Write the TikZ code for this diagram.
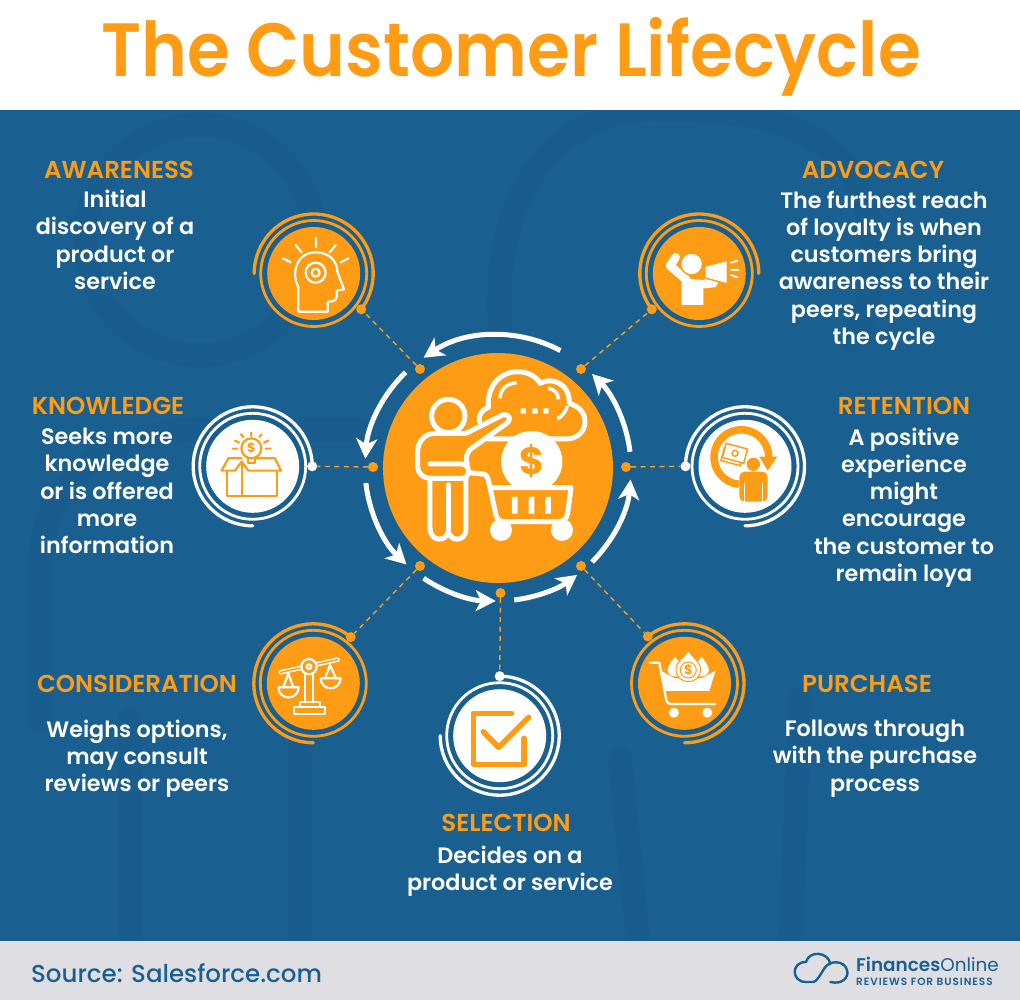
\documentclass[tikz,border=0pt]{standalone}
\usepackage{fontspec}
\usepackage{graphicx}
\setmainfont{Poppins}
\newfontfamily\semifont{Poppins SemiBold}
\newfontfamily\mediumfont{Poppins Medium}
\newfontfamily\spacedfont[LetterSpace=9]{Poppins SemiBold}
\usepackage{xcolor}
\usetikzlibrary{arrows.meta,positioning,calc}
\definecolor{loorange}{RGB}{255,156,22}
\definecolor{loblue}{RGB}{25,96,145}
\definecolor{lofaint}{RGB}{24,93,141}
\definecolor{logrey}{RGB}{223,223,227}
\tikzset{
  headlabel/.style={text=loorange,font=\semifont\fontsize{24.5}{28}\selectfont,inner sep=0pt},
  bodylabel/.style={text=white,align=center,font=\semifont\fontsize{22.3}{27.3}\selectfont,inner sep=0pt},
  hubdot/.style={circle,fill=loorange,inner sep=0pt,minimum size=10pt},
  ringdot/.style={circle,inner sep=0pt,minimum size=10pt},
  discnode/.style={circle,inner sep=0pt,minimum size=93pt},
  link/.style={loorange,line width=1.4pt,dash pattern=on 5pt off 4.5pt},
  ringarrow/.style={white,line width=5pt,-{Stealth[length=20pt,width=21pt,inset=5.5pt]}},
  thinline/.style={line width=2.2pt,line cap=round,line join=round},
  hubline/.style={white,line width=5pt,line cap=round,line join=round},
  faintline/.style={lofaint,line width=24pt,line cap=round,line join=round},
}
\begin{document}
\begin{tikzpicture}[x=1pt,y=-1pt]
    \useasboundingbox (0,0) rectangle (1020,1000);

    % Bands
    \fill[loblue] (0,100) rectangle (1020,950);
    % Faint backdrop
    \draw[faintline] (200,240) circle (115);
    \draw[faintline] (40,720) -- (40,570) .. controls (40,480) and (110,430) .. (200,430) -- (360,430);
    \draw[faintline] (130,720) -- (130,960) (300,720) -- (300,960);
    \draw[faintline] (500,330) .. controls (490,190) and (560,110) .. (650,110) .. controls (720,110) and (800,110) .. (850,170) .. controls (880,220) and (880,300) .. (850,340);
    \draw[faintline] (620,760) -- (640,960) (800,700) -- (790,960);
    \fill[white] (0,0) rectangle (1020,110);
    \fill[logrey] (0,941) rectangle (1020,1000);

    % Title and source
    \node[text=loorange,font=\semifont\fontsize{75.5}{80}\selectfont,inner sep=0pt,anchor=base] (title) at (511,76.7) {\scalebox{0.92}[1]{The Customer Lifecycle}};
    \node[text=loblue,font=\mediumfont\fontsize{24.5}{28}\selectfont,inner sep=0pt,anchor=west] (source) at (31,973) {Source: Salesforce.com};

    % Hub disc
    \node[circle,fill=loorange,inner sep=0pt,minimum size=230pt] (hub) at (498,468) {};

    % Hub arrows
    \draw[ringarrow] (hub.center) ++(-62:133) arc[start angle=-62,end angle=-124,radius=133];
    \draw[ringarrow] (hub.center) ++(-134:133) arc[start angle=-134,end angle=-176,radius=133];
    \draw[ringarrow] (hub.center) ++(-186.5:133) arc[start angle=-186.5,end angle=-226.5,radius=133];
    \draw[ringarrow] (hub.center) ++(-236:133) arc[start angle=-236,end angle=-269,radius=133];
    \draw[ringarrow] (hub.center) ++(-277:133) arc[start angle=-277,end angle=-306.5,radius=133];
    \draw[ringarrow] (hub.center) ++(-315:133) arc[start angle=-315,end angle=-355,radius=133];
    \draw[ringarrow] (hub.center) ++(-7:133) arc[start angle=-7,end angle=-45,radius=133];

    % Hub dots
    \node[hubdot] (dotaware) at (420,369) {};
    \node[hubdot] (dotknow) at (373,467) {};
    \node[hubdot] (dotconsider) at (420,566) {};
    \node[hubdot] (dotselect) at (500.5,593) {};
    \node[hubdot] (dotpurchase) at (581,566) {};
    \node[hubdot] (dotretain) at (626,467) {};
    \node[hubdot] (dotadvocate) at (581,369) {};

    % Step discs
    \node[discnode,fill=loorange] (aware) at (313.7,273.5) {};
    \node[discnode,fill=white] (know) at (252.7,466.3) {};
    \node[discnode,fill=loorange] (consider) at (313.3,683.3) {};
    \node[discnode,fill=white] (select) at (499.7,735.7) {};
    \node[discnode,fill=loorange] (purchase) at (684.5,683.3) {};
    \node[discnode,fill=white] (retain) at (745,466.3) {};
    \node[discnode,fill=loorange] (advocate) at (699.3,273.5) {};

    % Rings
    \draw[loorange,line width=2.8pt] (aware.center) circle (53);
    \draw[white,line width=2.8pt] (know.center) circle (53);
    \draw[loorange,line width=2.8pt] (consider.center) circle (53);
    \draw[white,line width=2.8pt] (select.center) circle (53);
    \draw[loorange,line width=2.8pt] (purchase.center) circle (53);
    \draw[white,line width=2.8pt] (retain.center) circle (53);
    \draw[loorange,line width=2.8pt] (advocate.center) circle (53);

    % Ring dots, set on the outer arcs
    \node[ringdot,fill=loorange] (ringaware) at ($(aware.center)+(37:59.5)$) {};
    \node[ringdot,fill=white] (ringknow) at ($(know.center)+(0:59.5)$) {};
    \node[ringdot,fill=loorange] (ringconsider) at ($(consider.center)+(-51:59.5)$) {};
    \node[ringdot,fill=white] (ringselect) at ($(select.center)+(-90:59.5)$) {};
    \node[ringdot,fill=loorange] (ringpurchase) at ($(purchase.center)+(-128:59.5)$) {};
    \node[ringdot,fill=white] (ringretain) at ($(retain.center)+(180:59.5)$) {};
    \node[ringdot,fill=loorange] (ringadvocate) at ($(advocate.center)+(143:59.5)$) {};

    % Outer arcs
    \draw[loorange,line width=3.3pt,line cap=round] (ringaware.center) arc[start angle=37,end angle=-180,radius=59.5];
    \draw[white,line width=3.3pt,line cap=round] (ringknow.center) arc[start angle=0,end angle=-270,radius=59.5];
    \draw[loorange,line width=3.3pt,line cap=round] (ringconsider.center) arc[start angle=-51,end angle=-270,radius=59.5];
    \draw[white,line width=3.3pt,line cap=round] (ringselect.center) arc[start angle=-90,end angle=180,radius=59.5];
    \draw[loorange,line width=3.3pt,line cap=round] (ringpurchase.center) arc[start angle=-128,end angle=90,radius=59.5];
    \draw[white,line width=3.3pt,line cap=round] (ringretain.center) arc[start angle=180,end angle=450,radius=59.5];
    \draw[loorange,line width=3.3pt,line cap=round] (ringadvocate.center) arc[start angle=143,end angle=360,radius=59.5];

    % Dashed links
    \draw[link] (dotaware) -- (ringaware);
    \draw[link] (dotknow) -- (ringknow);
    \draw[link] (dotconsider) -- (ringconsider);
    \draw[link] (dotselect) -- (ringselect);
    \draw[link] (dotpurchase) -- (ringpurchase);
    \draw[link] (dotretain) -- (ringretain);
    \draw[link] (dotadvocate) -- (ringadvocate);

    % Labels
    \node[headlabel] (awarehead) at (119,170) {AWARENESS};
    \node[bodylabel] (awaretext) at (115,240) {Initial\\discovery of a\\product or\\service};
    \node[headlabel] (advocatehead) at (873,170) {ADVOCACY};
    \node[bodylabel] (advocatetext) at (884,270.5) {The furthest reach\\of loyalty is when\\customers bring\\awareness to their\\peers, repeating\\the cycle};
    \node[headlabel] (knowhead) at (108,406) {KNOWLEDGE};
    \node[bodylabel] (knowtext) at (107,491) {Seeks more\\knowledge\\or is offered\\more\\information};
    \node[headlabel] (retainhead) at (904,406) {RETENTION};
    \node[bodylabel] (retaintext) at (904,507.5) {A positive\\experience\\might\\encourage\\the customer to\\remain loya};
    \node[headlabel] (considerhead) at (137,684) {CONSIDERATION};
    \node[bodylabel] (considertext) at (137,758.5) {Weighs options,\\may consult\\reviews or peers};
    \node[headlabel] (purchasehead) at (867,684) {PURCHASE};
    \node[bodylabel] (purchasetext) at (875,758.5) {Follows through\\with the purchase\\process};
    \node[headlabel] (selecthead) at (506,823) {SELECTION};
    \node[bodylabel] (selecttext) at (510,871) {Decides on a\\product or service};

    % Hub icon, in the crop's third-of-a-pixel grid
    \begin{scope}[shift={(340,320)},x=0.3333pt,y=-0.3333pt]
        \draw[hubline] (445,262) .. controls (440,190) and (490,155) .. (530,155) .. controls (565,155) and (590,170) .. (600,190) .. controls (635,170) and (690,190) .. (688,250) .. controls (720,260) and (735,280) .. (735,305) .. controls (735,335) and (710,357) .. (680,357) -- (445,357);
        \draw[hubline] (445,262) .. controls (425,270) and (415,285) .. (418,305);
        \draw[white,line width=3.5pt] (480,235) .. controls (480,210) and (500,190) .. (530,188);
        \draw[white,line width=3.5pt] (625,205) .. controls (645,208) and (655,222) .. (655,238);
        \draw[white,line width=3.5pt] (652,297) .. controls (665,290) and (678,275) .. (682,258);
        \fill[white] (542,265) rectangle (558,281) (577,265) rectangle (593,281) (610,265) rectangle (626,281);
        % coin
        \fill[white] (518,497) arc[start angle=128.4,end angle=411.6,radius=92] -- cycle;
        \node[text=loorange,font=\bfseries\fontsize{38}{40}\selectfont,inner sep=0pt] (coin) at (575,423) {\$};
        % person
        \draw[hubline] (325,288) circle (50);
        \draw[hubline,fill=loorange] (270,475) -- (270,625) .. controls (272,668) and (320,665) .. (325,635) .. controls (330,665) and (378,668) .. (378,625) -- (378,475);
        \draw[hubline] (325,495) -- (325,635);
        \draw[hubline,fill=loorange] (378,340) -- (285,340) .. controls (255,340) and (233,365) .. (233,395) -- (233,440) .. controls (233,460) and (250,475) .. (270,475) -- (365,475) .. controls (392,475) and (392,432) .. (365,432) -- (270,432);
        \draw[hubline,fill=loorange] (378,340) -- (488,285) .. controls (510,280) and (515,300) .. (500,310) -- (395,385) .. controls (380,395) and (375,415) .. (382,435);
        % cart
        \draw[hubline] (385,458) -- (428,462) .. controls (438,462) and (442,470) .. (445,480) -- (468,585) .. controls (472,600) and (480,605) .. (495,605) -- (655,605) .. controls (672,605) and (680,595) .. (683,580) -- (693,503) -- (452,503);
        \fill[white] (516,531) rectangle (533,581) (566,531) rectangle (583,581) (616,531) rectangle (633,581);
        \fill[white] (483,630) circle (33) (666,630) circle (33);
    \end{scope}

    % Awareness icon
    \begin{scope}[shift={(180,200)},x=0.3333pt,y=-0.3333pt]
        \draw[white,thinline] (355,335) -- (355,262) .. controls (335,225) and (345,157) .. (407,157) .. controls (450,157) and (472,185) .. (472,215) -- (492,268) -- (470,272) -- (470,290) .. controls (470,303) and (455,305) .. (443,305) -- (443,335) -- cycle;
        \draw[white,thinline] (407,218) circle (30) (407,218) circle (12);
        \draw[white,thinline] (408,114) -- (408,142) (347,135) -- (365,157) (309,175) -- (332,187) (467,135) -- (449,157) (505,175) -- (482,187);
    \end{scope}

    % Knowledge icon
    \begin{scope}[shift={(180,200)},x=0.3333pt,y=-0.3333pt]
        \draw[loorange,thinline] (140,815) -- (140,888) -- (290,888) -- (290,815);
        \draw[loorange,thinline] (185,785) -- (185,888);
        \draw[loorange,thinline] (185,775) -- (145,775) -- (125,812) -- (165,812) -- (185,785) -- (205,812) -- (303,812) -- (285,775) -- (222,775);
        \draw[loorange,thinline,fill=white] (214,745) circle (30);
        \draw[loorange,thinline] (205,775) -- (205,788) -- (224,788) -- (224,775);
        \node[text=loorange,font=\bfseries\fontsize{13}{14}\selectfont,inner sep=0pt] (boxcoin) at (214,745) {\$};
        \draw[loorange,thinline] (214,698) -- (214,708) (183,703) -- (190,711) (245,703) -- (238,711) (158,746) -- (172,746) (257,746) -- (272,746) (165,722) -- (177,728) (265,722) -- (252,728);
    \end{scope}

    % Advocacy icon
    \begin{scope}[shift={(620,200)},x=0.3333pt,y=-0.3333pt]
        \draw[white,line width=8.5pt,line cap=round,line join=round] (200,240) -- (150,197) -- (167,172);
        \fill[white] (185,235) -- (185,315) -- (250,315) -- (250,265) -- (285,262) .. controls (300,250) and (295,230) .. (280,225) -- (250,240) -- cycle;
        \draw[loorange,line width=1.5pt,fill=white] (255,198) -- (322,181) -- (322,252) -- (255,234) -- cycle;
        \draw[loorange,line width=1.5pt,fill=white] (215,192) circle (33);
        \draw[white,line width=2pt,line cap=round] (333,188) -- (352,182) (333,210) -- (355,210) (333,225) -- (352,232);
    \end{scope}

    % Retention icon
    \begin{scope}[shift={(620,200)},x=0.3333pt,y=-0.3333pt]
        \draw[loorange,line width=7.5pt] (357,853) arc[start angle=95,end angle=360,radius=82];
        \fill[loorange] (418,770) -- (472,770) -- (443,812) -- cycle;
        \draw[loorange,line width=1.5pt,fill=white,rotate around={-15:(337,770)}] (307,750) rectangle (367,790);
        \draw[loorange,line width=1.5pt,fill=white,rotate around={-15:(345,760)}] (312,738) rectangle (378,782);
        \draw[loorange,line width=1.5pt] (345,760) circle (9);
        \fill[loorange] (400,793) circle (20);
        \fill[loorange,rounded corners=5pt] (358,815) rectangle (443,905);
        \draw[white,line width=1pt] (373,850) -- (373,905) (428,850) -- (428,905);
    \end{scope}

    % Consideration icon
    \begin{scope}[shift={(240,610)},x=0.3333pt,y=-0.3333pt]
        \draw[white,line width=4.5pt,line cap=round] (122,187) -- (293,149);
        \draw[loorange,line width=1.5pt,line cap=round] (122,187) -- (293,149);
        \draw[white,thinline,fill=loorange] (195,195) -- (195,277) (220,195) -- (220,277);
        \draw[white,thinline,fill=loorange] (207,170) circle (23) (207,170) circle (7);
        \draw[white,thinline] (180,277) rectangle (240,290);
        \draw[white,thinline] (162,290) rectangle (255,313);
        \draw[white,thinline] (115,232) arc[start angle=180,end angle=0,radius=30.5] -- cycle;
        \draw[white,thinline] (130,232) -- (145,190) -- (160,232);
        \draw[white,thinline] (242,205) arc[start angle=180,end angle=0,radius=30] -- cycle;
        \draw[white,thinline] (255,205) -- (270,165) -- (288,205);
    \end{scope}

    % Selection icon
    \begin{scope}[shift={(240,610)},x=0.3333pt,y=-0.3333pt]
        \draw[loorange,line width=5.5pt,line cap=round,line join=round] (815,310) -- (700,310) -- (700,463) -- (852,463) -- (852,385);
        \draw[loorange,line width=5.5pt,line cap=round,line join=round] (730,365) -- (776,412) -- (866,322);
    \end{scope}

    % Purchase icon
    \begin{scope}[shift={(240,610)},x=0.3333pt,y=-0.3333pt]
        \draw[white,thinline] (1230,158) -- (1258,158) -- (1278,265) .. controls (1280,278) and (1285,282) .. (1295,282) -- (1425,282);
        \fill[white] (1262,182) -- (1305,205) -- (1385,205) -- (1427,182) -- (1408,243) -- (1275,243) -- cycle;
        \fill[white] (1305,140) .. controls (1320,160) and (1330,170) .. (1330,185) .. controls (1325,205) and (1285,205) .. (1283,180) .. controls (1285,165) and (1295,155) .. (1305,140) -- cycle;
        \fill[white] (1385,140) .. controls (1370,160) and (1360,170) .. (1360,185) .. controls (1365,205) and (1405,205) .. (1407,180) .. controls (1405,165) and (1395,155) .. (1385,140) -- cycle;
        \draw[loorange,line width=1pt,fill=white] (1345,122) .. controls (1360,145) and (1382,155) .. (1382,180) .. controls (1382,200) and (1365,215) .. (1345,215) .. controls (1325,215) and (1308,200) .. (1308,180) .. controls (1308,155) and (1330,145) .. (1345,122) -- cycle;
        \draw[loorange,line width=1pt] (1345,180) circle (24);
        \node[text=loorange,font=\bfseries\fontsize{13}{14}\selectfont,inner sep=0pt] (cartcoin) at (1345,180) {\$};
        \fill[white] (1302,308) circle (15) (1402,308) circle (15);
    \end{scope}

    % Brand mark
    \begin{scope}[shift={(741,940)},x=0.3333pt,y=-0.3333pt]
        \draw[loblue,line width=2.4pt,line cap=round] (218,126) -- (195,126) .. controls (150,126) and (150,65) .. (195,66) .. controls (205,30) and (262,35) .. (268,72);
        \draw[loblue,line width=2.4pt,line cap=round] (268,126) .. controls (305,135) and (325,110) .. (318,90) .. controls (310,60) and (265,60) .. (250,85);
        \draw[loblue,line width=2.4pt,line cap=round] (250,85) .. controls (235,110) and (225,125) .. (218,126);
    \end{scope}
    \node[text=loblue,font=\fontsize{18.4}{22}\selectfont,inner sep=0pt,anchor=west] (brand) at (856,964) {{\semifont Finances}Online};
    \node[text=loblue,font=\spacedfont\fontsize{10.5}{13}\selectfont,inner sep=0pt,anchor=west] (brandline) at (856,982) {REVIEWS FOR BUSINESS};
\end{tikzpicture}
\end{document}
